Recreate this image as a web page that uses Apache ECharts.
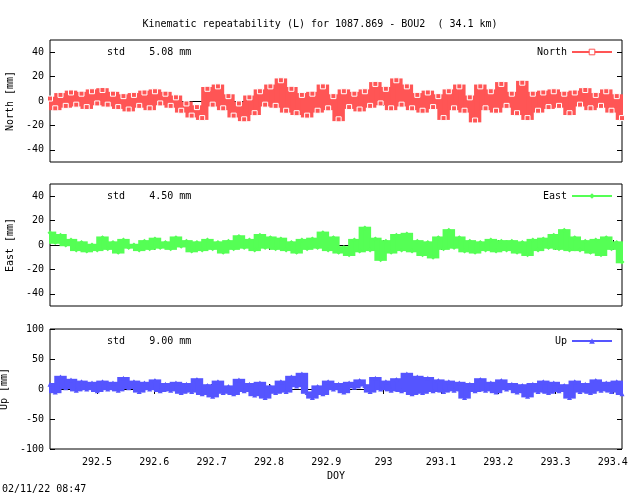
<!DOCTYPE html>
<html><head><meta charset="utf-8">
<script src="https://cdn.jsdelivr.net/npm/echarts@6/dist/echarts.min.js"></script>
<style>html,body{margin:0;background:#fff}#main{width:640px;height:496px}</style>
</head><body><div id="main"></div>
<script>
// residuals in mm, one entry per sampling epoch
const north = [
  2,-6,5,-4,7,-3,6,-5,8,-2,
  9,-3,6,-5,4,-7,5,-4,7,-6,
  8,-2,6,-4,3,-8,-2,-12,-5,-14,
  10,-3,12,-6,4,-12,-2,-15,3,-10,
  8,-3,12,-4,17,-8,10,-10,5,-12,
  6,-8,12,-6,4,-15,8,-5,6,-7,
  8,-4,14,-2,10,-6,17,-3,12,-6,
  5,-8,7,-5,4,-14,8,-6,12,-8,
  3,-16,12,-6,8,-8,14,-4,6,-10,
  15,-14,6,-8,7,-5,8,-4,6,-10,
  7,-3,9,-6,5,-4,8,-8,4,-14
];
const east = [
  10,2,8,0,4,-4,2,-5,0,-4,
  6,-3,2,-6,4,-2,0,-4,3,-3,
  5,-2,2,-3,6,-1,3,-5,2,-4,
  4,-3,2,-6,3,-3,7,-2,4,-4,
  8,-2,6,-3,5,-4,2,-6,4,-3,
  5,-2,10,-4,6,-6,-2,-8,4,-5,
  14,-4,5,-12,3,-6,8,-4,9,-5,
  3,-8,2,-10,6,-3,12,-2,6,-5,
  3,-6,2,-4,4,-5,3,-4,3,-6,
  2,-8,4,-4,5,-2,8,-3,12,-4,
  6,-4,3,-6,4,-8,6,-3,2,-14
];
const up = [
  8,-5,20,2,15,-2,12,0,10,-3,
  12,0,10,-2,18,2,12,-4,10,0,
  14,-3,8,-2,10,-6,8,-4,16,-8,
  6,-12,12,-6,4,-8,15,-3,8,-10,
  10,-14,4,-6,12,-4,20,5,25,-6,
  -14,4,-8,12,0,8,-5,10,3,14,
  6,-4,18,0,12,-2,16,-3,25,-8,
  20,-6,18,-3,14,-4,12,-2,10,-14,
  8,-3,16,-2,10,-5,14,0,8,-5,
  6,-12,8,-4,12,-6,10,-3,6,-14,
  12,-4,8,-6,14,-2,10,-4,12,-8
];
// typical error bar half-length per component, mm
const sigmas = [1.5, 1, 2];
const doyStart = 292.418, doyEnd = 293.416;
const xTicks = [292.5, 292.6, 292.7, 292.8, 292.9, 293.0, 293.1, 293.2, 293.3, 293.4];
const neTicks = [-40, -20, 0, 20, 40];
const upTicks = [-100, -50, 0, 50, 100];
const stds = ['5.08', '4.50', '9.00'];

const epochs = north.map((_, i) => doyStart + i * (doyEnd - doyStart) / (north.length - 1));
const font = 'DejaVu Sans Mono';
const txt = { fontFamily: font, fontSize: 10, color: '#000' };

const panels = [
  { name: 'North', data: north, color: '#ff5555', symbol: 'rect', empty: true, ticks: neTicks, min: -50, max: 50, top: 40, height: 122 },
  { name: 'East', data: east, color: '#55ff55', symbol: 'diamond', empty: false, ticks: neTicks, min: -50, max: 50, top: 184, height: 122 },
  { name: 'Up', data: up, color: '#5555ff', symbol: 'triangle', empty: false, ticks: upTicks, min: -100, max: 100, top: 329, height: 120 }
];

const grid = [], xAxis = [], yAxis = [], series = [], legend = [], graphic = [];
panels.forEach((p, k) => {
  grid.push({ left: 50, right: 18, top: p.top, height: p.height, show: true, borderColor: '#000', borderWidth: 1, outerBoundsMode: 'none', containLabel: false });
  [['bottom', k === 2], ['top', false]].forEach(([pos, lab]) => {
    xAxis.push({
      type: 'value', gridIndex: k, position: pos, min: doyStart, max: doyEnd,
      axisLine: { show: false }, splitLine: { show: false },
      axisTick: { show: true, inside: true, length: 5, customValues: xTicks, lineStyle: { color: '#000' } },
      axisLabel: { show: lab, customValues: xTicks, ...txt, margin: 8, formatter: v => String(+v.toFixed(1)) },
      name: lab ? 'DOY' : '', nameLocation: 'middle', nameGap: 22, nameTextStyle: txt
    });
  });
  [['left', true], ['right', false]].forEach(([pos, lab]) => {
    yAxis.push({
      type: 'value', gridIndex: k, position: pos, min: p.min, max: p.max,
      axisLine: { show: false }, splitLine: { show: false },
      axisTick: { show: true, inside: true, length: 5, customValues: p.ticks, lineStyle: { color: '#000' } },
      axisLabel: { show: lab, customValues: p.ticks, ...txt, margin: 6 },
      name: lab ? p.name + ' [mm]' : '', nameLocation: 'middle', nameGap: 32, nameRotate: 90, nameTextStyle: txt
    });
  });
  const pts = p.data.map((v, i) => [epochs[i], v]);
  // error bars: fill between consecutive epochs so the band looks solid
  series.push({
    type: 'custom', xAxisIndex: 2 * k, yAxisIndex: 2 * k, silent: true, z: 1,
    data: pts,
    renderItem: (params, api) => {
      const i = params.dataIndex;
      const j = Math.min(i + 1, pts.length - 1);
      const hi = Math.max(pts[i][1], pts[j][1]) + sigmas[k];
      const lo = Math.min(pts[i][1], pts[j][1]) - sigmas[k];
      const a = api.coord([pts[i][0], hi]);
      const b = api.coord([pts[j][0], lo]);
      return { type: 'rect', shape: { x: a[0] - 1, y: a[1], width: b[0] - a[0] + 2, height: b[1] - a[1] }, style: { fill: p.color } };
    }
  });
  series.push({
    name: p.name, type: 'line', xAxisIndex: 2 * k, yAxisIndex: 2 * k, z: 2,
    data: pts,
    symbol: p.symbol, symbolSize: 5, showSymbol: true,
    lineStyle: { color: p.color, width: 1 },
    itemStyle: p.empty ? { color: p.color, borderColor: '#fff', borderWidth: 1 } : { color: p.color },
    markLine: { silent: true, symbol: 'none', z: 0, label: { show: false },
      lineStyle: { color: '#000', type: 'solid', width: 1 }, data: [{ yAxis: 0 }] },
    animation: false
  });
  legend.push({
    data: [{ name: p.name, itemStyle: p.empty
      ? { color: '#fff', borderColor: p.color, borderWidth: 1 }
      : { color: p.color, borderColor: p.color } }],
    right: 22, top: p.top + 2, itemWidth: 40, itemHeight: 7, align: 'right',
    textStyle: txt, selectedMode: false
  });
  graphic.push({ type: 'text', left: 107, top: p.top + 7,
    style: { text: 'std    ' + stds[k] + ' mm', font: '10px "' + font + '"', fill: '#000' } });
});
graphic.push({ type: 'text', left: 2, top: 484, style: { text: '02/11/22 08:47', font: '10px "' + font + '"', fill: '#000' } });

const chart = echarts.init(document.getElementById('main'));
chart.setOption({
  animation: false,
  title: { text: 'Kinematic repeatability (L) for 1087.869 - BOU2  ( 34.1 km)', left: 'center', top: 14,
    textStyle: { fontFamily: font, fontSize: 10, fontWeight: 'normal', color: '#000' } },
  grid, xAxis, yAxis, series, legend, graphic
});
</script></body></html>
